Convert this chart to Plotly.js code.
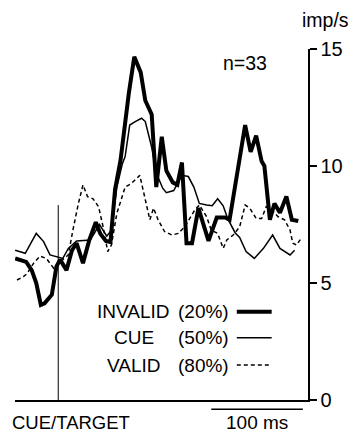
<!DOCTYPE html>
<html>
<head>
<meta charset="utf-8">
<script src="https://cdn.plot.ly/plotly-3.0.1.min.js"></script>
<style>
html,body{margin:0;padding:0;background:#fff;}
#chart{width:348px;height:432px;}
</style>
</head>
<body>
<div id="chart"></div>
<script>
// time in ms relative to CUE/TARGET onset; firing rate in imp/s
var invalidT = [-47,-42,-35,-29,-24,-19,-15,-7,-2,2,9,15,20,27,34,41,46,52,57,62,68,77,83,90,95,102,107,113,118,125,130,135,140,146,153,164,173,182,187,204,210,216,222,225,231,236,242,249,255,262];
var invalidY = [6.05,6.0,5.9,5.55,5.0,4.06,4.13,4.5,5.7,6.0,5.55,6.4,6.7,5.85,6.85,7.6,7.1,6.8,6.75,9.0,10.25,13.1,14.67,14.0,12.8,12.2,9.1,11.25,9.8,9.3,9.2,10.15,6.7,6.7,8.2,6.8,7.8,7.8,7.7,11.75,10.6,11.3,10.2,10.0,7.7,8.4,8.0,8.7,7.7,7.65];

var cueT = [-47,-36,-24,-16,-9,0,5,11,20,35,45,53,58,64,70,73,78,84,91,95,102,107,114,118,126,135,142,148,154,162,168,174,180,185,193,198,205,214,224,234,242,253,258];
var cueY = [6.4,6.27,7.12,6.77,6.2,6.12,6.05,6.48,6.8,6.84,7.5,7.0,7.26,9.1,10.1,10.4,11.75,11.9,12.04,11.9,10.8,9.7,9.05,8.86,8.95,9.6,9.55,9.1,8.4,8.33,8.3,8.6,8.3,7.75,7.15,6.95,6.34,6.05,6.48,7.05,6.48,6.2,6.4];

var validT = [-45,-38,-34,-27,-20,-13,-5,0,5,11,16,22,27,32,38,44,49,54,58,64,73,80,89,94,100,104,109,116,124,131,138,149,154,162,167,174,180,184,191,198,204,209,216,222,227,233,240,247,253,256,260,265];
var validY = [5.13,5.27,5.4,5.84,6.15,6.05,5.63,5.85,6.0,6.2,7.26,8.4,9.19,8.69,8.6,8.26,7.4,6.34,6.62,7.98,9.1,9.26,9.6,8.69,7.7,8.2,7.7,7.2,7.05,7.12,7.4,8.12,8.33,7.83,7.26,7.12,6.48,6.84,7.05,7.4,8.33,8.2,7.76,7.76,8.26,8.12,7.83,7.7,7.26,6.7,6.62,6.9];

var yTicks = [0,5,10,15];
var seriesNames = ['INVALID','CUE','VALID'];
var seriesPct = ['(20%)','(50%)','(80%)'];
var scaleBarStart = 167, scaleBarLen = 100;
var cueLineTop = 8.33;

var FONT = 'Liberation Sans, Arial, Helvetica, sans-serif';

var traces = [
  {x: invalidT, y: invalidY, mode:'lines', line:{color:'#000', width:4}, hoverinfo:'skip'},
  {x: cueT, y: cueY, mode:'lines', line:{color:'#000', width:1.5}, hoverinfo:'skip'},
  {x: validT, y: validY, mode:'lines', line:{color:'#000', width:1.5, dash:'4px,3px'}, hoverinfo:'skip'}
];

var rowY = [0.2516, 0.1775, 0.0997];
var lineStyles = [{width:4},{width:1.5},{width:1.5, dash:'4px,3px'}];
var annotations = [
  {text:'imp/s', xref:'paper', yref:'paper', x:0.972, y:1.083, xanchor:'left', yanchor:'middle', showarrow:false, font:{size:19.5}},
  {text:'n=33', xref:'paper', yref:'paper', x:0.784, y:0.960, xanchor:'center', yanchor:'middle', showarrow:false, font:{size:19.5}},
  {text:'CUE/TARGET', xref:'paper', yref:'paper', x:-0.017, y:-0.064, xanchor:'left', yanchor:'middle', showarrow:false, font:{size:18.5}},
  {text:'100 ms', xref:'x', yref:'paper', x:scaleBarStart + scaleBarLen/2, y:-0.064, xanchor:'center', yanchor:'middle', showarrow:false, font:{size:19}}
];
var shapes = [
  {type:'line', xref:'x', yref:'y', x0:0, x1:0, y0:0, y1:cueLineTop, line:{color:'#000', width:1}},
  {type:'line', xref:'x', yref:'paper', x0:scaleBarStart, x1:scaleBarStart+scaleBarLen, y0:-0.0265, y1:-0.0265, line:{color:'#000', width:1.5}}
];
for (var i=0;i<3;i++){
  annotations.push({text:seriesNames[i], xref:'paper', yref:'paper', x:0.4057, y:rowY[i], xanchor:'center', yanchor:'middle', showarrow:false, font:{size:19}});
  annotations.push({text:seriesPct[i], xref:'paper', yref:'paper', x:0.549, y:rowY[i], xanchor:'left', yanchor:'middle', showarrow:false, font:{size:19}});
  var ls = Object.assign({color:'#000'}, lineStyles[i]);
  shapes.push({type:'line', xref:'paper', yref:'paper', x0:0.757, x1:0.876, y0:rowY[i], y1:rowY[i], line:ls});
}

var layout = {
  width:348, height:432,
  margin:{l:15, r:39.7, t:49, b:32, pad:0},
  paper_bgcolor:'#fff', plot_bgcolor:'#fff',
  showlegend:false,
  font:{family:FONT, color:'#000', size:19},
  xaxis:{range:[-47.2, 272.6], showgrid:false, zeroline:false, showline:true, linecolor:'#000', linewidth:1.5, showticklabels:false, ticks:'', fixedrange:true},
  yaxis:{range:[0,15], side:'right', showgrid:false, zeroline:false, showline:true, linecolor:'#000', linewidth:1.5, ticks:'outside', ticklen:7, tickwidth:1.5, tickcolor:'#000', tickvals:yTicks, ticktext:yTicks.map(String), tickfont:{size:20}, fixedrange:true},
  annotations:annotations,
  shapes:shapes
};

Plotly.newPlot('chart', traces, layout, {staticPlot:true, displayModeBar:false});
</script>
</body>
</html>
